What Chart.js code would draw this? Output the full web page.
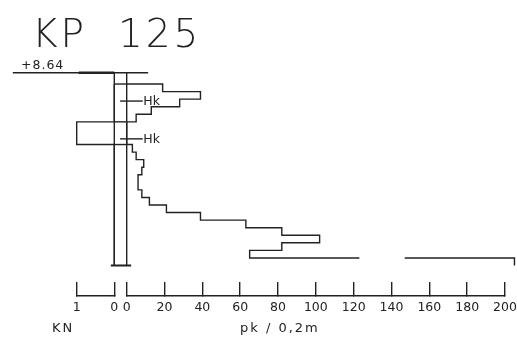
<!DOCTYPE html>
<html><head><meta charset="utf-8">
<script src="https://cdn.jsdelivr.net/npm/chart.js@4/dist/chart.umd.min.js"></script>
<style>html,body{margin:0;padding:0;background:#fff}</style>
</head><body>
<canvas id="c" width="517" height="341"></canvas>
<script>
// ---- texts ----
const chartTitle = 'KP  125';
const surfaceLevel = '+8.64';
const knAxisTitle = 'KN';
const pkAxisTitle = 'pk / 0,2m';
const hkLabel = 'Hk';

// ---- depth intervals (m below surface) ----
const depthBounds = [0.3,0.5,0.7,0.9,1.1,1.3,1.5,1.7,1.9,2.1,2.3,2.5,2.7,2.9,3.1,3.3,3.5,3.7,3.9,4.1,4.3,4.5,4.7,4.9,5.1];
// blows per 0.2 m (pk / 0,2m), one per interval
const pkValues = [19,39,28,13,5,0,0,0,3,5,9,8,6,6,8,12,21,39,63,82,102,82,65,205];
// load (KN), one per interval
const knValues = [0,0,0,0,0,1,1,1,0,0,0,0,0,0,0,0,0,0,0,0,0,0,0,0];
// break in the last step line (pk units)
const lastStepBreak = [123, 147];

// ---- axes ----
const knRange = [0, 1];
const pkRange = [0, 200];
const pkStep = 20;
const depthRange = [0, 5.907];

// ---- rod / surface / markers ----
const rodDepth = [0, 5.1];
const rodFoot = [-0.28, 1.36];      // on the gap axis
const surfaceLine = [2.7, -0.9];    // on the KN axis
const surfaceThick = [0.95, 0];     // on the KN axis
const hkDepths = [0.75, 1.75];
const hkSpan = [-3.5, 8.5];         // on the pk axis

const INK = '#222222';
const LW = 1.4;

function stepLine(values, bounds, base) {
  const pts = [{x: base, y: bounds[0]}];
  values.forEach((v, i) => {
    pts.push({x: v, y: bounds[i]});
    pts.push({x: v, y: bounds[i + 1]});
  });
  return pts;
}

// pk profile with the break in the last horizontal step
const pkPts = stepLine(pkValues, depthBounds, 0);
const lastDepth = depthBounds[depthBounds.length - 2];
const pkProfile = [];
pkPts.forEach((p, i) => {
  pkProfile.push(p);
  if (i === pkPts.length - 3) {
    pkProfile.push({x: lastStepBreak[0], y: lastDepth});
    pkProfile.push({x: null, y: null});
    pkProfile.push({x: lastStepBreak[1], y: lastDepth});
  }
});

const knProfile = stepLine(knValues, depthBounds, 0);

// connectors across the gap between the two rod lines
const connectorDepths = [depthBounds[0]];
knValues.forEach((v, i) => { if (i > 0 && v !== knValues[i - 1]) connectorDepths.push(depthBounds[i]); });

const base = {borderColor: INK, borderWidth: LW, pointRadius: 0, pointHoverRadius: 0, showLine: true, clip: false, fill: false, tension: 0, spanGaps: false, yAxisID: 'y'};
const ds = [];
ds.push(Object.assign({}, base, {label: 'pk', xAxisID: 'pk', data: pkProfile}));
ds.push(Object.assign({}, base, {label: 'KN', xAxisID: 'kn', data: knProfile}));
connectorDepths.forEach(d => ds.push(Object.assign({}, base, {xAxisID: 'gap', data: [{x: 0, y: d}, {x: 1, y: d}]})));
ds.push(Object.assign({}, base, {xAxisID: 'kn', data: [{x: 0, y: rodDepth[0]}, {x: 0, y: rodDepth[1]}]}));
ds.push(Object.assign({}, base, {xAxisID: 'pk', data: [{x: 0, y: rodDepth[0]}, {x: 0, y: rodDepth[1]}]}));
ds.push(Object.assign({}, base, {xAxisID: 'gap', borderWidth: 2, data: [{x: rodFoot[0], y: rodDepth[1]}, {x: rodFoot[1], y: rodDepth[1]}]}));
ds.push(Object.assign({}, base, {xAxisID: 'kn', data: [{x: surfaceLine[0], y: 0}, {x: surfaceLine[1], y: 0}]}));
ds.push(Object.assign({}, base, {xAxisID: 'kn', borderWidth: 2.4, data: [{x: surfaceThick[0], y: 0}, {x: surfaceThick[1], y: 0}]}));
hkDepths.forEach(d => ds.push(Object.assign({}, base, {xAxisID: 'pk', data: [{x: hkSpan[0], y: d}, {x: hkSpan[1], y: d}]})));

function fitAxis(s) { s.height = 40; s.paddingLeft = 0; s.paddingRight = 0; }
const tickFont = {family: "'DejaVu Sans'", size: 12.5};
const gridOpts = {display: true, drawOnChartArea: false, drawTicks: true, tickLength: -14, color: INK, lineWidth: LW};
const borderOpts = {display: true, color: INK, width: LW};

const textPlugin = {
  id: 'texts',
  afterDraw(chart) {
    const ctx = chart.ctx, y = chart.scales.y, pk = chart.scales.pk;
    ctx.save();
    ctx.fillStyle = INK;
    ctx.textBaseline = 'alphabetic';
    ctx.textAlign = 'left';
    ctx.font = "200 39px 'DejaVu Sans'";
    ctx.letterSpacing = '3px';
    ctx.fillText(chartTitle, 32, 47);
    ctx.font = "12.5px 'DejaVu Sans'";
    ctx.letterSpacing = '1px';
    ctx.fillText(surfaceLevel, 21, y.getPixelForValue(0) - 4);
    ctx.font = "13px 'DejaVu Sans'";
    ctx.letterSpacing = '2px';
    ctx.fillText(knAxisTitle, 52, 332);
    ctx.fillText(pkAxisTitle, 240, 332);
    ctx.font = "12.5px 'DejaVu Sans'";
    ctx.letterSpacing = '0px';
    ctx.textBaseline = 'middle';
    hkDepths.forEach(d => ctx.fillText(hkLabel, pk.getPixelForValue(hkSpan[1]) + 0.5, y.getPixelForValue(d) + 0.5));
    ctx.restore();
  }
};

new Chart(document.getElementById('c'), {
  type: 'scatter',
  data: {datasets: ds},
  plugins: [textPlugin],
  options: {
    responsive: false, animation: false, events: [], devicePixelRatio: 1,
    layout: {padding: {left: 76.7, right: 12, top: 72.7, bottom: 5}},
    plugins: {legend: {display: false}, title: {display: false}, tooltip: {enabled: false}},
    scales: {
      kn: {type: 'linear', axis: 'x', position: 'bottom', stack: 'base', stackWeight: 37.6,
        min: knRange[0], max: knRange[1], reverse: true,
        ticks: {stepSize: 1, color: INK, font: tickFont, padding: 18, autoSkip: false, maxRotation: 0},
        grid: gridOpts, border: borderOpts, afterFit: fitAxis},
      gap: {type: 'linear', axis: 'x', position: 'bottom', stack: 'base', stackWeight: 12.4,
        min: 0, max: 1, ticks: {display: false}, grid: {display: false}, border: {display: false}, afterFit: fitAxis},
      pk: {type: 'linear', axis: 'x', position: 'bottom', stack: 'base', stackWeight: 378.3,
        min: pkRange[0], max: pkRange[1],
        ticks: {stepSize: pkStep, color: INK, font: tickFont, padding: 18, autoSkip: false, maxRotation: 0},
        grid: gridOpts, border: borderOpts, afterFit: fitAxis},
      y: {type: 'linear', display: false, min: depthRange[0], max: depthRange[1], reverse: true}
    }
  }
});
</script>
</body></html>
